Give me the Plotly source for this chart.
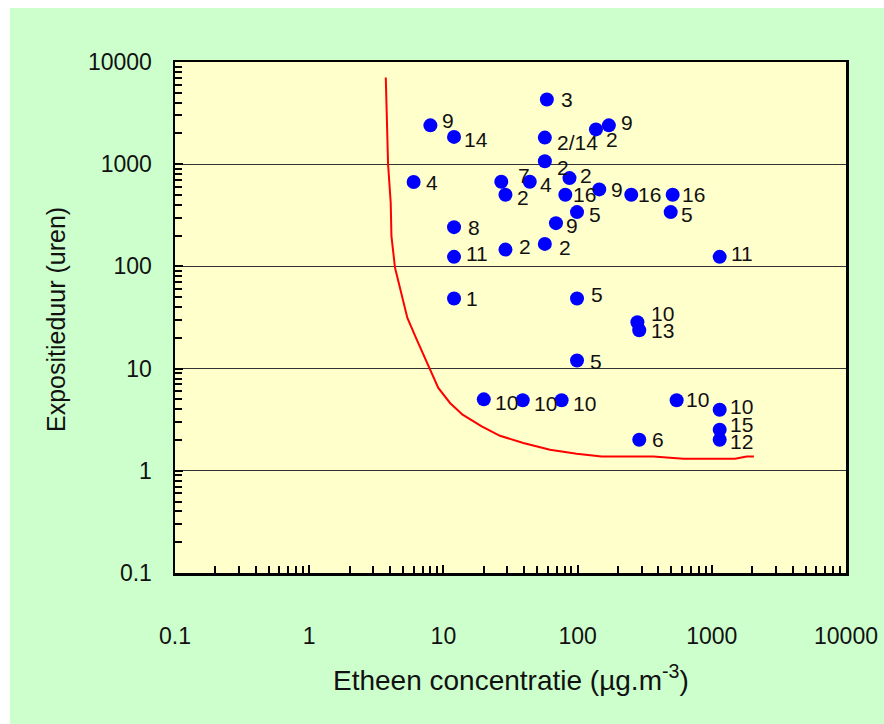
import math
import plotly.graph_objects as go

# ---- data ----
conc = [8, 12, 6, 12, 12, 12, 20, 59, 57, 57, 137, 171, 27, 44, 29, 87, 81, 145, 251, 511,
        99, 494, 69, 29, 57, 1145, 99, 279, 288, 99, 39, 76, 547, 1145, 1145, 1145, 288]
duur = [2400, 1850, 670, 242, 124, 48.5, 5, 4300, 1820, 1070, 2190, 2400, 674, 674, 503, 731, 503, 567, 503, 503,
        340, 340, 265, 146, 166, 124, 48.5, 28.4, 23.7, 12, 4.9, 4.9, 4.9, 3.96, 2.52, 2.01, 2.01]
labels = ["9", "14", "4", "8", "11", "1", "10", "3", "2/14", "2", "2", "9", "7", "4", "2", "2", "16", "9", "16", "16",
          "5", "5", "9", "2", "2", "11", "5", "10", "13", "5", "10", "10", "10", "10", "15", "12", "6"]

curve_x = [3.72, 3.78, 3.87, 4.05, 4.1, 4.36, 4.57, 5.39, 6.33, 7.85, 9.16, 11.2, 13.9, 19.3, 26.4,
           39.4, 62.3, 98.4, 151, 366, 614, 1490, 1820, 2060]
curve_y = [7040, 2960, 1000, 420, 198, 97, 74.3, 31.3, 19.2, 10.05, 6.46, 4.61, 3.54, 2.72, 2.20,
           1.87, 1.61, 1.47, 1.38, 1.38, 1.31, 1.31, 1.38, 1.38]

tick_vals = [0.1, 1, 10, 100, 1000, 10000]
tick_text = ["0.1", "1", "10", "100", "1000", "10000"]

# label offsets in pixels (dx right, dy down) -- styling only
label_dx = [12, 10, 12, 14, 12, 12, 11, 14, 12, 12, 10, 12, 17, 10, 12, 11, 8, 12, 7, 9,
            12, 10, 10, 14, 14, 11, 14, 14, 12, 13, 11, 11, 9, 10, 10, 10, 13]
label_dy = [-5, 3, 1, 0, -3, 0, 3, 0, 5, 6, 10, -3, -6, 3, 3, -3, 0, 0, 0, 0,
            2, 2, 2, -3, 4, -3, -4, -9, 0, 1, 3, 3, -1, -3, -5, 2, 0]

FONT = "Liberation Sans"
TXT = "#111111"

fig = go.Figure()
fig.add_trace(go.Scatter(x=curve_x, y=curve_y, mode="lines",
                         line=dict(color="#ff0000", width=2), hoverinfo="skip", showlegend=False))
fig.add_trace(go.Scatter(x=conc, y=duur, mode="markers",
                         marker=dict(color="#0000ff", size=14, line=dict(width=0)),
                         showlegend=False))

for xv, yv, t, dx, dy in zip(conc, duur, labels, label_dx, label_dy):
    fig.add_annotation(x=math.log10(xv), y=math.log10(yv), xref="x", yref="y", text=t, showarrow=False,
                       xanchor="left", yanchor="middle", xshift=dx - 2, yshift=-dy,
                       font=dict(family=FONT, size=21, color=TXT))

W, H = 884, 724
L, R, T, B = 175, 38, 62, 151
pw, ph = W - L - R, H - T - B

def px(xp):
    return (xp - L) / pw

def py(yp):
    return (H - B - yp) / ph

# axis titles
fig.add_annotation(x=0.5, y=py(678), xref="paper", yref="paper",
                   text="Etheen concentratie (µg.m<sup>-3</sup>)", showarrow=False,
                   xanchor="center", yanchor="middle",
                   font=dict(family=FONT, size=28, color=TXT))
fig.add_annotation(x=px(56), y=py(320), xref="paper", yref="paper",
                   text="Expositieduur (uren)", showarrow=False, textangle=-90,
                   xanchor="center", yanchor="middle",
                   font=dict(family=FONT, size=25, color=TXT))

# white outer margin strips
fig.add_shape(type="rect", xref="paper", yref="paper", x0=px(-5), x1=px(10), y0=py(H + 5), y1=py(-5),
              fillcolor="white", line=dict(width=0), layer="below")
fig.add_shape(type="rect", xref="paper", yref="paper", x0=px(-5), x1=px(W + 5), y0=py(8), y1=py(-5),
              fillcolor="white", line=dict(width=0), layer="below")

axis_common = dict(
    type="log", range=[-1, 4], tickmode="array", tickvals=tick_vals, ticktext=tick_text,
    ticks="inside", ticklen=8, tickwidth=2, tickcolor="black",
    showline=True, linecolor="black", linewidth=2.5, mirror=True,
    tickfont=dict(family=FONT, size=23, color=TXT),
    minor=dict(ticks="inside", ticklen=7, tickwidth=2, tickcolor="black", dtick="D1", showgrid=False),
    zeroline=False, fixedrange=True, automargin=False,
)

fig.update_xaxes(**axis_common, showgrid=False, ticklabelstandoff=41)
fig.update_yaxes(**axis_common, showgrid=True, gridcolor="#333333", gridwidth=1, ticklabelstandoff=16)

fig.update_layout(
    width=W, height=H, autosize=False,
    margin=dict(l=L, r=R, t=T, b=B, pad=0, autoexpand=False),
    paper_bgcolor="#ccffcc", plot_bgcolor="#ffffcc",
    showlegend=False,
)

fig.write_html("out.html", config={"displayModeBar": False, "staticPlot": True},
               post_script="document.body.style.margin='0';document.body.style.overflow='hidden';")
